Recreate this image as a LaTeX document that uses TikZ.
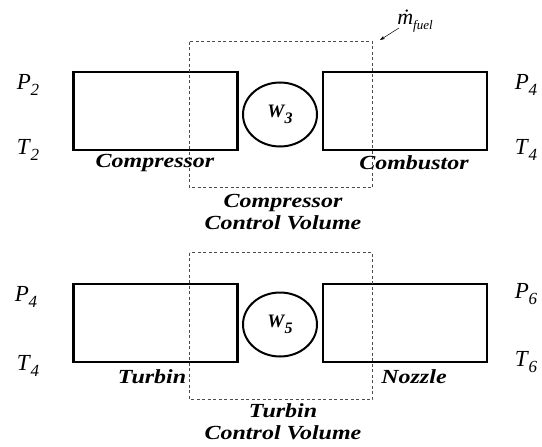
\documentclass[tikz,border=0pt]{standalone}
\usepackage{fontspec}
\setmainfont{Liberation Serif}
\newfontfamily\lblfont[FakeStretch=1.2]{Liberation Serif}
\usetikzlibrary{arrows.meta,shapes.geometric}
\newcommand{\symsub}[2]{\textit{#1}\hspace{-0.5pt}\raisebox{-0.55ex}{\fontsize{17}{17}\selectfont\textit{#2}}}
\newcommand{\wsub}[2]{\textbf{\textit{#1}}\hspace{-1pt}\raisebox{-0.7ex}{\fontsize{16}{16}\selectfont\textbf{\textit{#2}}}}
\tikzset{
  unit/.style={draw, line width=2.6pt, minimum width=164pt, minimum height=78pt, inner sep=0pt},
  work/.style={draw, ellipse, line width=2pt, minimum width=74pt, minimum height=64pt, inner sep=0pt, font=\fontsize{19}{19}\selectfont},
  cv/.style={draw=black!70, line width=0.7pt, dash pattern=on 3pt off 2.5pt},
  state/.style={font=\fontsize{23}{23}\selectfont, inner sep=0pt},
  lbl/.style={font=\lblfont\fontsize{20}{20}\selectfont\bfseries\itshape, inner sep=0pt},
  cvlbl/.style={font=\lblfont\fontsize{20}{22}\selectfont\bfseries\itshape, inner sep=0pt, align=center}
}
\begin{document}
\begin{tikzpicture}[x=1pt,y=-1pt]
\useasboundingbox (0,0) rectangle (542,447);
% top row
\node[unit] (comp) at (155.5,111) {};
\node[work] (w3) at (280,114.5) {\wsub{W}{3}};
\node[unit] (comb) at (405,111) {};
\coordinate (cv1a) at (189.5,41.5);
\coordinate (cv1b) at (372.5,187.5);
\draw[cv] (cv1a) rectangle (cv1b);
\node[state] (p2) at (28,85) {\symsub{P}{2}};
\node[state] (t2) at (28,150) {\symsub{T}{2}};
\node[state] (p4a) at (526,85) {\symsub{P}{4}};
\node[state] (t4a) at (526,150) {\symsub{T}{4}};
\node[lbl] (compl) at (155,163) {Compressor};
\node[lbl] (combl) at (414,163) {Combustor};
\node[cvlbl] (cv1l) at (283,212) {Compressor\\Control Volume};
\node[inner sep=0pt, font=\fontsize{22}{22}\selectfont] (mf) at (415,21) {\textit{\.{m}}\raisebox{-0.5ex}{\fontsize{13}{13}\selectfont\textit{fuel}}};
\coordinate (mfs) at (399,28);
\coordinate (mfe) at (380,40);
\draw[-{Stealth[length=5pt,width=3.5pt]}, line width=0.5pt] (mfs) -- (mfe);
% bottom row
\node[unit] (turb) at (155.5,323) {};
\node[work] (w5) at (280,324.5) {\wsub{W}{5}};
\node[unit] (nozz) at (405,323) {};
\coordinate (cv2a) at (189.5,252.5);
\coordinate (cv2b) at (372.5,399.5);
\draw[cv] (cv2a) rectangle (cv2b);
\node[state] (p4b) at (26,297) {\symsub{P}{4}};
\node[state] (t4b) at (28,366) {\symsub{T}{4}};
\node[state] (p6) at (526,294) {\symsub{P}{6}};
\node[state] (t6) at (526,362) {\symsub{T}{6}};
\node[lbl] (turbl) at (152,377) {Turbin};
\node[lbl] (nozzl) at (414,377) {Nozzle};
\node[cvlbl] (cv2l) at (283,422) {Turbin\\Control Volume};
\end{tikzpicture}
\end{document}
